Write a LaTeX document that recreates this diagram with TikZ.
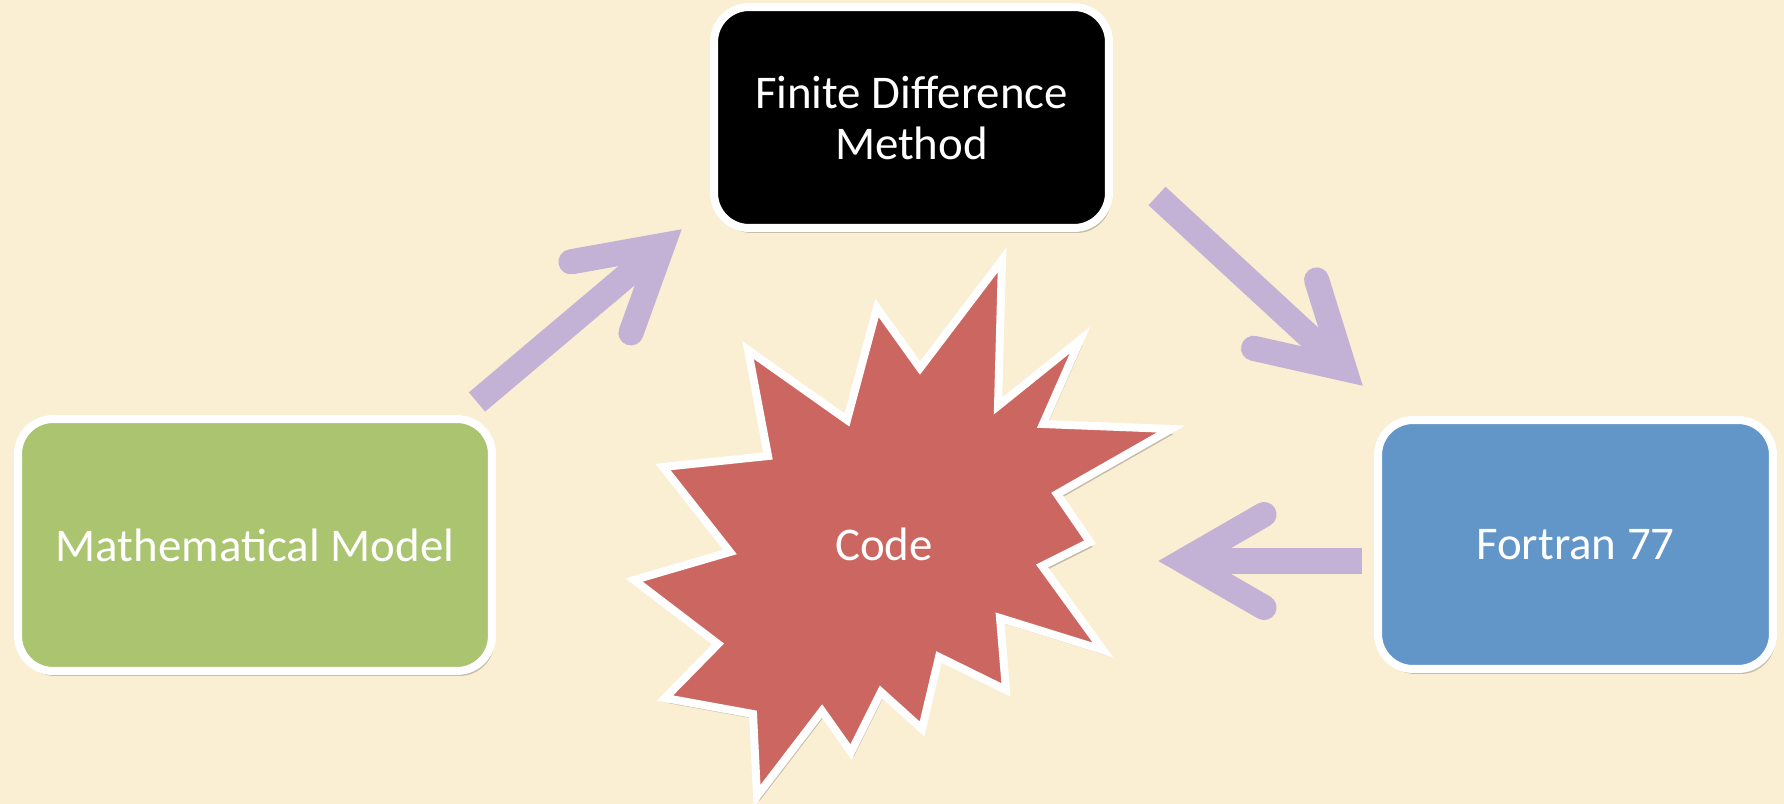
\documentclass[tikz,border=0pt]{standalone}
\usepackage{fontspec}
\setmainfont{Carlito}
\usetikzlibrary{calc,shadows}
\definecolor{bgcol}{HTML}{FAEED3}
\definecolor{greenbox}{HTML}{ABC46F}
\definecolor{bluebox}{HTML}{6296C8}
\definecolor{redstar}{HTML}{CC6660}
\definecolor{arrowcol}{HTML}{C3B2D5}
\newcommand\fatarrow[2]{%
  \coordinate (#2v) at ($(#2)!0.51cm!(#1)$);
  \coordinate (#2w1) at ($(#2v)!1.86cm!30:(#1)$);
  \coordinate (#2w2) at ($(#2v)!1.86cm!-30:(#1)$);
  \draw[arrowline, line cap=butt] (#1) -- (#2v);
  \draw[arrowline, line cap=round, line join=miter] (#2w1) -- (#2v) -- (#2w2);
}
\begin{document}
\begin{tikzpicture}[x=0.02cm,y=-0.02cm,
  boxshadow/.style={drop shadow={shadow xshift=0.05cm, shadow yshift=-0.1cm, opacity=0.3, fill=black!70}},
  box/.style={rounded corners=0.7cm, draw=white, line width=4.55pt, text=white,
    font=\fontsize{26.7}{29}\selectfont, align=center, boxshadow},
  arrowline/.style={line width=14.3pt, draw=arrowcol},
  starshape/.style={fill=redstar, draw=white, line width=4.55pt, line join=miter, boxshadow}]
\fill[bgcol] (0,0) rectangle (1784,804);
\useasboundingbox (0,0) rectangle (1784,804);

\node[box, fill=greenbox, minimum width=9.48cm, minimum height=5.04cm] (mm) at (255,545) {Mathematical Model};
\node[box, fill=black, minimum width=7.9cm, minimum height=4.42cm] (fdm) at (911.5,117.5) {Finite Difference\\Method};
\node[box, fill=bluebox, minimum width=7.9cm, minimum height=4.98cm] (fort) at (1575.5,544.5) {Fortran 77};

\draw[starshape] (1002,260) -- (998,406) -- (1080,340) -- (1043,424) -- (1171,429)
  -- (1057,494) -- (1090,542) -- (1042,566) -- (1103,650) -- (1000,618)
  -- (1006,690) -- (939,657) -- (922,729) -- (881,692) -- (851,752)
  -- (822,711) -- (757,796) -- (753,714) -- (665,698) -- (718,644)
  -- (634,580) -- (730,552) -- (663,467) -- (768,456) -- (748,350)
  -- (847,420) -- (877,308) -- (920,368) -- cycle;
\node[text=white, font=\fontsize{26.7}{29}\selectfont] (code) at (884,544) {Code};

\coordinate (a1s) at (477,402);
\coordinate (a1t) at (682,229);
\coordinate (a2s) at (1157,196);
\coordinate (a2t) at (1363,386);
\coordinate (a3s) at (1362,561);
\coordinate (a3t) at (1158,561);
\fatarrow{a1s}{a1t}
\fatarrow{a2s}{a2t}
\fatarrow{a3s}{a3t}
\end{tikzpicture}
\end{document}
